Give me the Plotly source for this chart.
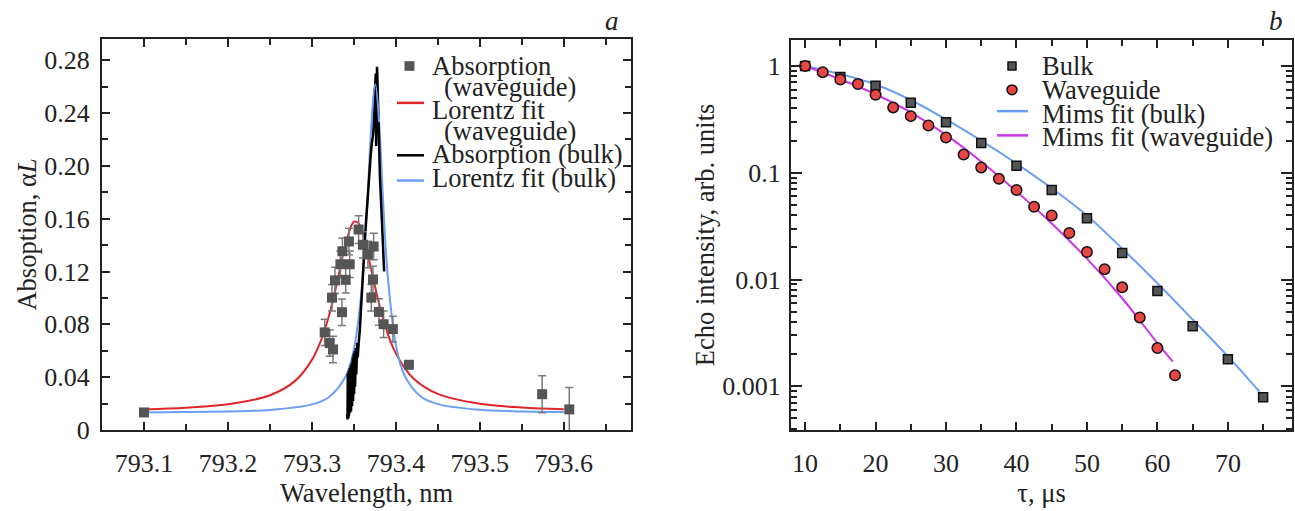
import plotly.graph_objects as go

# ---------------- data: panel a ----------------
wg_abs_x = [793.1000, 793.3152, 793.3212, 793.3239, 793.3251, 793.3275, 793.3339, 793.3358,
            793.3363, 793.3402, 793.3441, 793.3450, 793.3556, 793.3608, 793.3667, 793.3707,
            793.3727, 793.3735, 793.3798, 793.3854, 793.3964, 793.4155, 793.5742, 793.6065]
wg_abs_y = [0.0133, 0.0739, 0.0658, 0.1002, 0.0610, 0.1133, 0.1255, 0.0892,
            0.1354, 0.1137, 0.1427, 0.1255, 0.1518, 0.1402, 0.1329, 0.1002,
            0.1140, 0.1390, 0.0894, 0.0801, 0.0764, 0.0494, 0.0271, 0.0156]
wg_abs_err = [0.002, 0.010, 0.010, 0.010, 0.010, 0.010, 0.010, 0.010,
              0.010, 0.010, 0.010, 0.010, 0.0105, 0.010, 0.010, 0.010,
              0.010, 0.010, 0.010, 0.010, 0.0098, 0.003, 0.014, 0.0165]

lor_wg_x = [793.10, 793.15, 793.20, 793.25, 793.28, 793.30, 793.31, 793.32, 793.33, 793.34,
            793.35, 793.355, 793.36, 793.37, 793.38, 793.39, 793.40, 793.42, 793.45, 793.50,
            793.55, 793.60]
lor_wg_y = [0.0156, 0.0169, 0.0195, 0.0263, 0.0372, 0.0531, 0.0666, 0.0858, 0.1118, 0.1404,
            0.1577, 0.1570, 0.1498, 0.1234, 0.0954, 0.0735, 0.0579, 0.0396, 0.0273, 0.0198,
            0.0170, 0.0157]

bulk_abs_x = [793.3418, 793.3421, 793.3424, 793.3427, 793.3430, 793.3433, 793.3436, 793.3439,
              793.3442, 793.3445, 793.3448, 793.3451, 793.3454, 793.3457, 793.3460, 793.3463,
              793.3466, 793.3469, 793.3472, 793.3475, 793.3478, 793.3481, 793.3484, 793.3487,
              793.3490, 793.3493, 793.3496, 793.3499, 793.3502, 793.3505, 793.3508, 793.3511,
              793.3514, 793.3517, 793.3520, 793.3524, 793.3528, 793.3532, 793.3536, 793.3540,
              793.3545, 793.3550, 793.3560, 793.3570, 793.3580, 793.3590, 793.3600, 793.3610,
              793.3620, 793.3630, 793.3640, 793.3650, 793.3660, 793.3670, 793.3680, 793.3690,
              793.3700, 793.3710, 793.3720, 793.3730, 793.3740, 793.3750, 793.3755, 793.3760,
              793.3765, 793.3770, 793.3775, 793.3780, 793.3790, 793.3800, 793.3810, 793.3820,
              793.3830, 793.3840, 793.3850, 793.3860]
bulk_abs_y = [0.012, 0.040, 0.008, 0.043, 0.010, 0.038, 0.009, 0.045,
              0.011, 0.041, 0.012, 0.047, 0.013, 0.042, 0.015, 0.049,
              0.014, 0.045, 0.017, 0.051, 0.018, 0.047, 0.020, 0.055,
              0.022, 0.050, 0.024, 0.058, 0.027, 0.053, 0.030, 0.060,
              0.033, 0.056, 0.037, 0.062, 0.042, 0.064, 0.047, 0.066,
              0.055, 0.064, 0.068, 0.075, 0.085, 0.095, 0.104, 0.118,
              0.132, 0.145, 0.155, 0.163, 0.170, 0.180, 0.190, 0.200,
              0.208, 0.215, 0.220, 0.225, 0.238, 0.252, 0.262, 0.270,
              0.215, 0.272, 0.275, 0.266, 0.235, 0.210, 0.192, 0.178,
              0.163, 0.148, 0.134, 0.120]

lor_bulk_x = [793.10, 793.15, 793.20, 793.25, 793.30, 793.32, 793.34, 793.35, 793.36, 793.365,
              793.37, 793.3755, 793.38, 793.385, 793.39, 793.40, 793.41, 793.43, 793.45, 793.50,
              793.55, 793.60]
lor_bulk_y = [0.0133, 0.0136, 0.0141, 0.0152, 0.0194, 0.0248, 0.0403, 0.0610, 0.1109, 0.1588,
              0.2214, 0.2618, 0.2332, 0.1706, 0.1190, 0.0642, 0.0417, 0.0252, 0.0196, 0.0153,
              0.0141, 0.0136]

a_xticks = [793.1, 793.2, 793.3, 793.4, 793.5, 793.6]
a_xticktext = ["793.1", "793.2", "793.3", "793.4", "793.5", "793.6"]
a_yticks = [0, 0.04, 0.08, 0.12, 0.16, 0.20, 0.24, 0.28]
a_yticktext = ["0", "0.04", "0.08", "0.12", "0.16", "0.20", "0.24", "0.28"]

# ---------------- data: panel b ----------------
bulk_tau = [10, 15, 20, 25, 30, 35, 40, 45, 50, 55, 60, 65, 70, 75]
bulk_echo = [1.0, 0.79, 0.653, 0.452, 0.297, 0.19, 0.116, 0.069, 0.0374, 0.0177,
             0.0078, 0.00366, 0.00179, 0.00079]
wg_tau = [10, 12.5, 15, 17.5, 20, 22.5, 25, 27.5, 30, 32.5, 35, 37.5, 40, 42.5, 45,
          47.5, 50, 52.5, 55, 57.5, 60, 62.5]
wg_echo = [1.0, 0.875, 0.746, 0.676, 0.537, 0.409, 0.339, 0.277, 0.214, 0.148, 0.112,
           0.0877, 0.069, 0.048, 0.0398, 0.0273, 0.0181, 0.0125, 0.00845, 0.00442,
           0.00228, 0.00127]
mims_bulk_tau = [10, 15, 20, 25, 30, 35, 40, 45, 50, 55, 60, 65, 70, 74.5]
mims_bulk_echo = [1.0, 0.84, 0.67, 0.48, 0.316, 0.2, 0.122, 0.0716, 0.0398, 0.0195,
                  0.00923, 0.00422, 0.00191, 0.00089]
mims_wg_tau = [10, 15, 20, 25, 30, 35, 40, 45, 50, 55, 60, 62.2]
mims_wg_echo = [1.0, 0.75, 0.543, 0.367, 0.226, 0.127, 0.0668, 0.0335, 0.0157,
                0.00668, 0.00254, 0.0017]

b_xticks = [10, 20, 30, 40, 50, 60, 70]
b_yticks = [1, 0.1, 0.01, 0.001]
b_yticktext = ["1", "0.1", "0.01", "0.001"]

# ---------------- styling ----------------
W, H = 1295, 511
FONT = "Liberation Serif, Times New Roman, Times, DejaVu Serif, serif"
TXT = "#222222"
C_SQ = "#555555"
C_ERR = "#7a7a7a"
C_RED = "#e0262b"
C_BLUE = "#6a9ff5"
C_MAG = "#cc33ee"
C_WGDOT = "#e84545"
TICKF = 26
TITLEF = 26.5
LEGF = 26.5


def px(x):
    return x / W


def py(y):
    return 1 - y / H


fig = go.Figure()

# panel a traces
fig.add_trace(go.Scatter(x=lor_wg_x, y=lor_wg_y, mode="lines", line=dict(color=C_RED, width=2, shape="spline"),
                         xaxis="x", yaxis="y", name="Lorentz fit (waveguide)"))
fig.add_trace(go.Scatter(x=lor_bulk_x, y=lor_bulk_y, mode="lines", line=dict(color=C_BLUE, width=2, shape="spline"),
                         xaxis="x", yaxis="y", name="Lorentz fit (bulk)"))
fig.add_trace(go.Scatter(x=bulk_abs_x, y=bulk_abs_y, mode="lines", line=dict(color="black", width=2.5),
                         xaxis="x", yaxis="y", name="Absorption (bulk)"))
fig.add_trace(go.Scatter(x=wg_abs_x, y=wg_abs_y, mode="markers",
                         marker=dict(symbol="square", size=10, color=C_SQ),
                         error_y=dict(type="data", array=wg_abs_err, color=C_ERR, thickness=1.5, width=4),
                         xaxis="x", yaxis="y", name="Absorption (waveguide)"))
fig.add_trace(go.Scatter(x=lor_bulk_x[10:13], y=lor_bulk_y[10:13], mode="lines",
                         line=dict(color=C_BLUE, width=2, shape="spline"), xaxis="x", yaxis="y",
                         showlegend=False, hoverinfo="skip"))

# panel b traces
fig.add_trace(go.Scatter(x=mims_bulk_tau, y=mims_bulk_echo, mode="lines", line=dict(color=C_BLUE, width=2, shape="spline"),
                         xaxis="x2", yaxis="y2", name="Mims fit (bulk)"))
fig.add_trace(go.Scatter(x=mims_wg_tau, y=mims_wg_echo, mode="lines", line=dict(color=C_MAG, width=2, shape="spline"),
                         xaxis="x2", yaxis="y2", name="Mims fit (waveguide)"))
fig.add_trace(go.Scatter(x=bulk_tau, y=bulk_echo, mode="markers",
                         marker=dict(symbol="square", size=9, color=C_SQ, line=dict(color="#111", width=1.5)),
                         xaxis="x2", yaxis="y2", name="Bulk"))
fig.add_trace(go.Scatter(x=wg_tau, y=wg_echo, mode="markers",
                         marker=dict(symbol="circle", size=10.5, color=C_WGDOT, line=dict(color="#111", width=1.5)),
                         xaxis="x2", yaxis="y2", name="Waveguide"))

axis_common = dict(showline=True, linecolor=TXT, linewidth=2, mirror="ticks", ticks="inside",
                   tickwidth=1.5, tickcolor=TXT, showgrid=False, zeroline=False,
                   tickfont=dict(family=FONT, size=TICKF, color=TXT))
minor_common = dict(ticks="inside", ticklen=6, tickwidth=1.5, tickcolor=TXT, showgrid=False)

fig.update_layout(
    width=W, height=H, margin=dict(l=0, r=0, t=0, b=0),
    paper_bgcolor="white", plot_bgcolor="white", showlegend=False,
    font=dict(family=FONT, color=TXT),
    xaxis=dict(domain=[px(102), px(631)], range=[793.05, 793.68], anchor="y",
               tickvals=a_xticks, ticktext=a_xticktext, ticklen=8, ticklabelstandoff=9,
               minor=dict(dtick=0.05, tick0=793.05, **minor_common),
               title=dict(text="Wavelength, nm", font=dict(family=FONT, size=TITLEF, color=TXT), standoff=5),
               **axis_common),
    yaxis=dict(domain=[py(443), py(40)], range=[0, 0.2962], anchor="x",
               tickvals=a_yticks, ticktext=a_yticktext, ticklen=8, ticklabelstandoff=5,
               minor=dict(dtick=0.02, tick0=0, **minor_common),
               title=dict(text="Absoption, α<i>L</i>", font=dict(family=FONT, size=TITLEF, color=TXT), standoff=0),
               **axis_common),
    xaxis2=dict(domain=[px(791), px(1292)], range=[8, 79.1], anchor="y2",
                tickvals=b_xticks, ticklen=8, ticklabelstandoff=9,
                minor=dict(dtick=5, tick0=0, **minor_common),
                title=dict(text="τ, μs", font=dict(family=FONT, size=TITLEF, color=TXT), standoff=5),
                **axis_common),
    yaxis2=dict(domain=[py(443), py(41)], type="log", range=[-3.409, 0.245], anchor="x2",
                tickvals=b_yticks, ticktext=b_yticktext, ticklen=11, ticklabelstandoff=3,
                minor=dict(dtick="D1", **minor_common),
                title=dict(text="Echo intensity, arb. units", font=dict(family=FONT, size=TITLEF, color=TXT), standoff=0),
                **axis_common),
)

shapes = []
annotations = []


def leg_text(x, y, text):
    annotations.append(dict(x=px(x), y=py(y), xref="paper", yref="paper", text=text, showarrow=False,
                            xanchor="left", yanchor="middle", font=dict(family=FONT, size=LEGF, color=TXT)))


def leg_line(x0, x1, y, color):
    shapes.append(dict(type="line", xref="paper", yref="paper", x0=px(x0), x1=px(x1), y0=py(y), y1=py(y),
                       line=dict(color=color, width=2.5)))


# legend panel a
shapes.append(dict(type="rect", xref="paper", yref="paper", x0=px(404.5), x1=px(414.5), y0=py(73), y1=py(63),
                   fillcolor=C_SQ, line=dict(width=0)))
leg_text(430, 68, "Absorption")
leg_text(442, 90, "(waveguide)")
leg_line(397, 424, 106, C_RED)
leg_text(430, 113, "Lorentz fit")
leg_text(442, 135, "(waveguide)")
leg_line(397, 424, 160, "black")
leg_text(430, 159, "Absorption (bulk)")
leg_line(397, 424, 186, C_BLUE)
leg_text(430, 183, "Lorentz fit (bulk)")

# legend panel b
shapes.append(dict(type="rect", xref="paper", yref="paper", x0=px(1008), x1=px(1016), y0=py(72), y1=py(64),
                   fillcolor=C_SQ, line=dict(color="#111", width=1.5)))
shapes.append(dict(type="circle", xref="paper", yref="paper", x0=px(1007), x1=px(1017), y0=py(97.5), y1=py(87.5),
                   fillcolor=C_WGDOT, line=dict(color="#111", width=1.5)))
leg_text(1040, 68, "Bulk")
leg_text(1040, 93, "Waveguide")
leg_line(997, 1028, 114.5, C_BLUE)
leg_text(1040, 117, "Mims fit (bulk)")
leg_line(997, 1028, 139.5, C_MAG)
leg_text(1040, 141, "Mims fit (waveguide)")

# panel letters
annotations.append(dict(x=px(612), y=py(22), xref="paper", yref="paper", text="<i>a</i>", showarrow=False,
                        xanchor="center", yanchor="middle", font=dict(family=FONT, size=27, color=TXT)))
annotations.append(dict(x=px(1276), y=py(22), xref="paper", yref="paper", text="<i>b</i>", showarrow=False,
                        xanchor="center", yanchor="middle", font=dict(family=FONT, size=27, color=TXT)))

fig.update_layout(shapes=shapes, annotations=annotations)
fig.write_html("out.html", config={"displayModeBar": False},
               post_script="document.body.style.margin='0px';document.body.style.padding='0px';")
